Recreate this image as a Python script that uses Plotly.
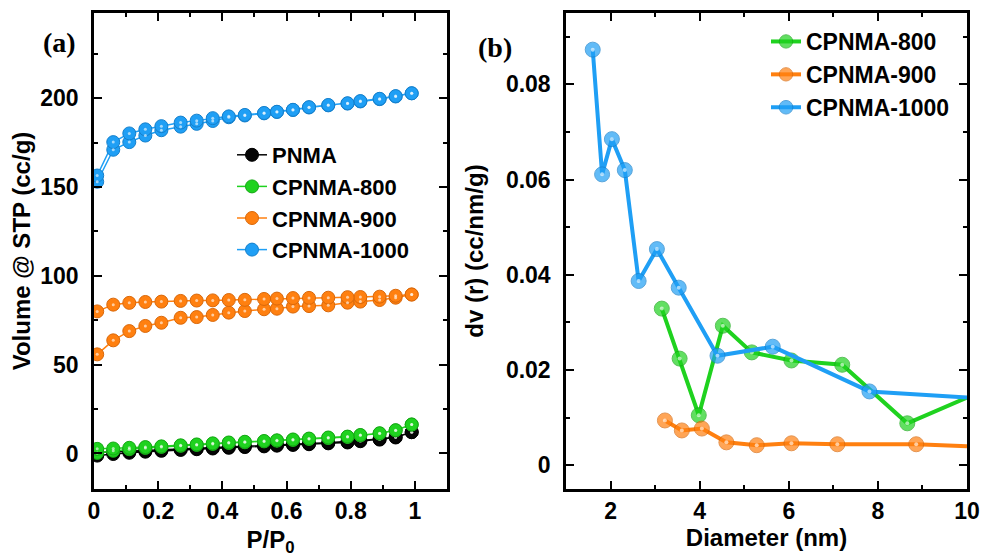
import plotly.graph_objects as go

# ---------------- data ----------------
# (a) N2 isotherms: relative pressure and adsorbed volume (cc/g)
P_rel = [0.01, 0.06, 0.11, 0.16, 0.21, 0.27, 0.32, 0.37, 0.42, 0.47,
         0.53, 0.57, 0.62, 0.67, 0.73, 0.79, 0.83, 0.89, 0.94, 0.99]

pnma_ads = [-1.2, -0.3, 0.4, 1.0, 1.5, 2.0, 2.4, 2.8, 3.2, 3.6,
            4.0, 4.4, 4.8, 5.2, 5.7, 6.2, 6.9, 7.8, 9.0, 12.0]
pnma_des = [0.5, 0.8, 1.2, 1.6, 2.0, 2.4, 2.8, 3.2, 3.6, 4.0,
            4.4, 4.8, 5.2, 5.6, 6.1, 6.6, 7.3, 8.2, 9.3, 12.0]

c800_ads = [0.3, 1.5, 2.4, 3.1, 3.7, 4.3, 4.8, 5.4, 5.9, 6.3,
            6.8, 7.2, 7.6, 8.2, 8.7, 9.3, 10.2, 11.2, 13.0, 16.3]
c800_des = [2.6, 2.8, 3.2, 3.6, 4.0, 4.6, 5.1, 5.7, 6.2, 6.6,
            7.0, 7.4, 7.9, 8.4, 9.0, 9.5, 10.4, 11.4, 13.1, 16.3]

c900_ads = [55.8, 63.7, 68.9, 71.8, 73.6, 76.4, 76.8, 78.0, 79.3, 80.2,
            81.2, 81.5, 82.7, 83.0, 83.4, 84.9, 85.5, 86.4, 87.7, 89.5]
c900_des = [80.0, 83.8, 84.8, 85.3, 85.5, 85.9, 86.1, 86.2, 86.4, 86.5,
            87.0, 87.2, 87.5, 87.6, 87.7, 88.0, 88.1, 88.3, 88.8, 89.5]

c1000_ads = [153.0, 171.0, 175.3, 179.0, 182.0, 184.0, 185.6, 187.2, 189.3, 190.3,
             191.5, 192.3, 193.4, 194.8, 196.0, 197.0, 198.2, 199.5, 201.0, 202.8]
c1000_des = [156.5, 175.3, 180.2, 182.5, 184.3, 186.3, 187.4, 188.8, 189.8, 190.6,
             191.7, 192.4, 193.5, 195.0, 196.2, 197.2, 198.4, 199.7, 201.2, 202.8]

# (b) pore size distributions: diameter (nm) and dv(r) (cc/nm/g)
d800 = [3.15, 3.55, 3.98, 4.52, 5.17, 6.06, 7.20, 8.66, 10.0]
psd800 = [0.0329, 0.0224, 0.0105, 0.0293, 0.0237, 0.0220, 0.0211, 0.0088, 0.0142]

d900 = [3.22, 3.60, 4.05, 4.60, 5.28, 6.06, 7.09, 8.86, 10.0]
psd900 = [0.0094, 0.0073, 0.0077, 0.0048, 0.0042, 0.0046, 0.0044, 0.0044, 0.0040]

d1000 = [1.60, 1.81, 2.03, 2.32, 2.63, 3.04, 3.53, 4.40, 5.64, 7.81, 10.0]
psd1000 = [0.0873, 0.0611, 0.0685, 0.0620, 0.0387, 0.0454, 0.0373, 0.0230, 0.0249, 0.0155, 0.0142]

names_a = ["PNMA", "CPNMA-800", "CPNMA-900", "CPNMA-1000"]
names_b = ["CPNMA-800", "CPNMA-900", "CPNMA-1000"]

# ---------------- styles ----------------
COL = {"PNMA": "#050505", "CPNMA-800": "#1fd21f", "CPNMA-900": "#ff8010", "CPNMA-1000": "#1f9ff5"}
EDGE = {"PNMA": "#000000", "CPNMA-800": "#15a815", "CPNMA-900": "#d9680a", "CPNMA-1000": "#1580cc"}
FONT = "Liberation Sans, Arial, sans-serif"

fig = go.Figure()


def add_highlight(x, y, xa, ya, size):
    fig.add_trace(go.Scatter(x=x, y=y, xaxis=xa, yaxis=ya, mode="markers",
                             marker=dict(size=size, color="rgba(255,255,255,0.6)"),
                             showlegend=False, hoverinfo="skip"))


# panel (a): adsorption branch then desorption branch back
iso = {"PNMA": (pnma_ads, pnma_des), "CPNMA-800": (c800_ads, c800_des),
       "CPNMA-900": (c900_ads, c900_des), "CPNMA-1000": (c1000_ads, c1000_des)}
for nm in names_a:
    ads, des = iso[nm]
    xs = P_rel + P_rel[::-1]
    ys = ads + des[::-1]
    fig.add_trace(go.Scatter(x=xs, y=ys, xaxis="x", yaxis="y", mode="lines+markers", name=nm,
                             line=dict(color=COL[nm], width=1.5),
                             marker=dict(size=13, color=COL[nm], line=dict(color=EDGE[nm], width=1)),
                             legend="legend"))
    add_highlight(xs, ys, "x", "y", 3)

# panel (b)
psd = {"CPNMA-800": (d800, psd800), "CPNMA-900": (d900, psd900), "CPNMA-1000": (d1000, psd1000)}
for nm in names_b:
    xd, yd = psd[nm]
    sizes = [15] * (len(xd) - 1) + [0]
    fig.add_trace(go.Scatter(x=xd, y=yd, xaxis="x2", yaxis="y2", mode="lines+markers", name=nm,
                             line=dict(color=COL[nm], width=4),
                             marker=dict(size=sizes, color=COL[nm], line=dict(color=EDGE[nm], width=1)),
                             legend="legend2"))
    add_highlight(xd[:-1], yd[:-1], "x2", "y2", 4)

W, H = 998, 559
ax_common = dict(showline=True, linecolor="black", linewidth=2.5, mirror="allticks",
                 ticks="inside", ticklen=8, tickwidth=2, tickcolor="black",
                 showgrid=False, zeroline=False, automargin=False,
                 tickfont=dict(family=FONT, size=23, color="black", weight="bold"))
title_font = dict(family=FONT, size=24, color="black", weight="bold")

fig.update_layout(
    width=W, height=H,
    margin=dict(l=0, r=0, t=0, b=0),
    paper_bgcolor="white", plot_bgcolor="white",
    xaxis=dict(domain=[94 / W, 447 / W], anchor="y", range=[0, 1.1], dtick=0.2, tick0=0,
               ticklabelstandoff=0,
               minor=dict(dtick=0.1, ticks="inside", ticklen=4, tickwidth=2, tickcolor="black"),
               title=dict(text="P/P<sub>0</sub>", font=title_font, standoff=8), **ax_common),
    yaxis=dict(domain=[1 - 489 / H, 1 - 13 / H], anchor="x", range=[-20, 248], dtick=50, tick0=0,
               ticklabelstandoff=8,
               minor=dict(dtick=25, ticks="inside", ticklen=4, tickwidth=2, tickcolor="black"),
               title=dict(text="Volume @ STP (cc/g)", font=title_font, standoff=3), **ax_common),
    xaxis2=dict(domain=[566 / W, 967 / W], anchor="y2", range=[1, 10], dtick=2, tick0=0,
                ticklabelstandoff=0,
                minor=dict(dtick=1, ticks="inside", ticklen=4, tickwidth=2, tickcolor="black"),
                title=dict(text="Diameter (nm)", font=title_font, standoff=3), **ax_common),
    yaxis2=dict(domain=[1 - 489 / H, 1 - 13 / H], anchor="x2", range=[-0.005, 0.095], dtick=0.02, tick0=0,
                ticklabelstandoff=8,
                minor=dict(dtick=0.01, ticks="inside", ticklen=4, tickwidth=2, tickcolor="black"),
                title=dict(text="dv (r) (cc/nm/g)", font=title_font, standoff=16), **ax_common),
    legend=dict(x=232 / W, y=1 - 134 / H, xanchor="left", yanchor="top", bgcolor="rgba(0,0,0,0)",
                font=dict(family=FONT, size=22, color="black", weight="bold"), tracegroupgap=0),
    legend2=dict(x=766 / W, y=1 - 20 / H, xanchor="left", yanchor="top", bgcolor="rgba(0,0,0,0)",
                 font=dict(family=FONT, size=23, color="black", weight="bold"), tracegroupgap=0),
    annotations=[
        dict(text="(a)", x=59 / W, y=1 - 43 / H, xref="paper", yref="paper", showarrow=False,
             xanchor="center", yanchor="middle",
             font=dict(family="Liberation Serif, Times New Roman, serif", size=28, color="black", weight="bold")),
        dict(text="(b)", x=495 / W, y=1 - 47 / H, xref="paper", yref="paper", showarrow=False,
             xanchor="center", yanchor="middle",
             font=dict(family="Liberation Serif, Times New Roman, serif", size=28, color="black", weight="bold")),
    ],
)

fig.write_html("out.html")
